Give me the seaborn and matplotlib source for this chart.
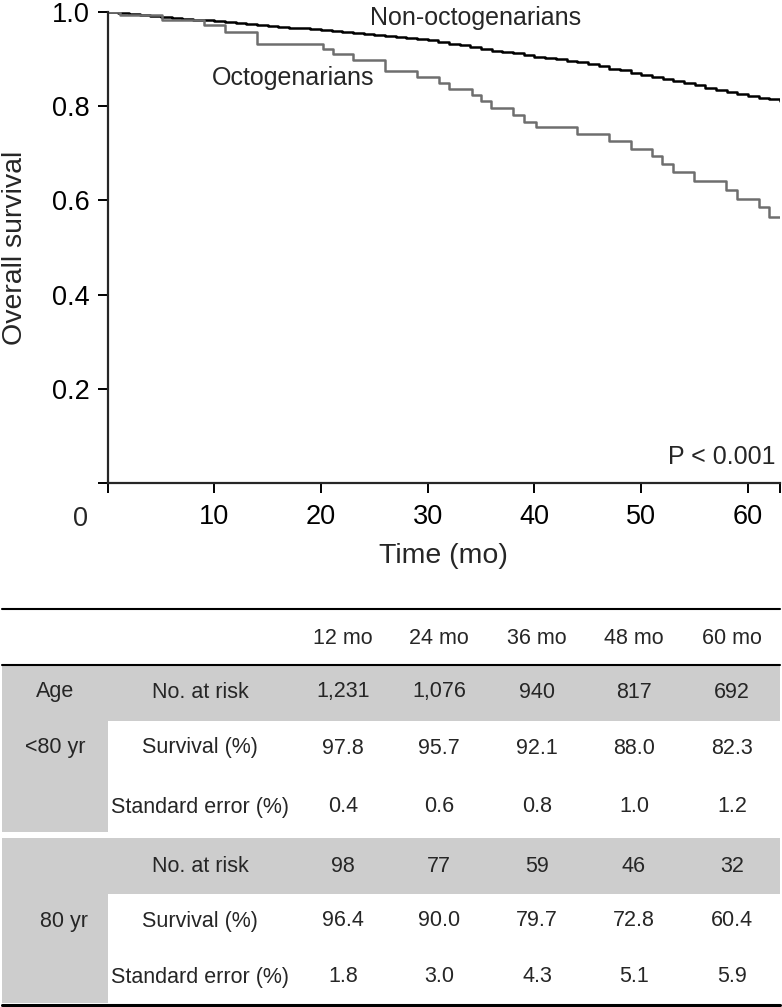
import numpy as np
import pandas as pd
import matplotlib
matplotlib.use("Agg")
import matplotlib.pyplot as plt
import seaborn as sns

sns.set_style("ticks")
plt.rcParams['font.family'] = ['Liberation Sans', 'DejaVu Sans']

# Kaplan-Meier step points
non_octo_time = [0, 1, 2, 3, 4, 5, 6, 7, 8, 9, 10, 11, 12, 13, 14, 15, 16, 17, 18, 19, 20,
                 21, 22, 23, 24, 25, 26, 27, 28, 29, 30, 31, 32, 33, 34, 35, 36, 37, 38, 39, 40,
                 41, 42, 43, 44, 45, 46, 47, 48, 49, 50, 51, 52, 53, 54, 55, 56, 57, 58, 59, 60,
                 61, 62, 63]
non_octo_surv = [1.000, 0.998, 0.996, 0.994, 0.992, 0.990, 0.988, 0.986, 0.984, 0.982, 0.980,
                 0.978, 0.977, 0.975, 0.973, 0.971, 0.969, 0.967, 0.965, 0.963, 0.961,
                 0.959, 0.957, 0.955, 0.953, 0.951, 0.949, 0.947, 0.945, 0.942, 0.940,
                 0.937, 0.933, 0.929, 0.925, 0.921, 0.918, 0.915, 0.912, 0.908, 0.905,
                 0.903, 0.900, 0.897, 0.894, 0.890, 0.885, 0.880, 0.876, 0.871, 0.866,
                 0.862, 0.858, 0.854, 0.849, 0.844, 0.839, 0.834, 0.830, 0.825, 0.821,
                 0.818, 0.815, 0.812]

octo_time = [0, 1.2, 5.1, 9.0, 11.0, 14.0, 20.2, 21.1, 23.0, 26.0, 29.0, 31.1, 32.0, 34.1,
             35.0, 35.9, 38.0, 39.0, 40.1, 44.0, 47.0, 49.0, 51.0, 51.9, 53.0, 54.9, 57.9,
             59.0, 61.0, 62.0, 63.0]
octo_surv = [1.000, 0.994, 0.982, 0.972, 0.958, 0.933, 0.921, 0.911, 0.898, 0.875, 0.861,
             0.849, 0.836, 0.823, 0.810, 0.797, 0.781, 0.767, 0.756, 0.742, 0.726, 0.710,
             0.694, 0.678, 0.660, 0.641, 0.623, 0.604, 0.585, 0.565, 0.565]

# table under the plot
months = ["12 mo", "24 mo", "36 mo", "48 mo", "60 mo"]
row_names = ["No. at risk", "Survival (%)", "Standard error (%)"]
young_risk = ["1,231", "1,076", "940", "817", "692"]
young_surv = ["97.8", "95.7", "92.1", "88.0", "82.3"]
young_se = ["0.4", "0.6", "0.8", "1.0", "1.2"]
old_risk = ["98", "77", "59", "46", "32"]
old_surv = ["96.4", "90.0", "79.7", "72.8", "60.4"]
old_se = ["1.8", "3.0", "4.3", "5.1", "5.9"]

df = pd.concat([
    pd.DataFrame({"time": non_octo_time, "surv": non_octo_surv, "group": "Non-octogenarians"}),
    pd.DataFrame({"time": octo_time, "surv": octo_surv, "group": "Octogenarians"}),
])

W, H = 782, 1007
fig = plt.figure(figsize=(W / 100, H / 100), dpi=100)
ax = fig.add_axes([107.5 / W, 1 - 483 / H, 672.5 / W, 471 / H])

sns.lineplot(data=df, x="time", y="surv", hue="group",
             palette={"Non-octogenarians": "black", "Octogenarians": "#6e6e6e"},
             drawstyle="steps-post", linewidth=1.8, legend=False, ax=ax)

ax.set_xlim(0, 63)
ax.set_ylim(0, 1.0)
sns.despine(ax=ax)
for s in ["left", "bottom"]:
    ax.spines[s].set_linewidth(1.6)
ax.set_xticks([0, 10, 20, 30, 40, 50, 60, 63])
ax.set_xticklabels(["", "10", "20", "30", "40", "50", "60", ""])
ax.set_yticks([0, 0.2, 0.4, 0.6, 0.8, 1.0])
ax.set_yticklabels(["", "0.2", "0.4", "0.6", "0.8", "1.0"])
ax.tick_params(axis="both", length=7, width=1.4, labelsize=19.5, colors="black")
ax.tick_params(axis="x", pad=8)
ax.tick_params(axis="y", pad=6)
ax.set_xlabel("Time (mo)", fontsize=20.5)
ax.set_ylabel("Overall survival", fontsize=20.5)
ax.xaxis.set_label_coords(0.5, -0.128)
ax.yaxis.set_label_coords(-0.118, 0.5)

ax.text(0.39, 0.987, "Non-octogenarians", transform=ax.transAxes, fontsize=18, va="center", ha="left")
ax.text(0.155, 0.86, "Octogenarians", transform=ax.transAxes, fontsize=18, va="center", ha="left")
ax.text(0.9926, 0.055, "P < 0.001", transform=ax.transAxes, fontsize=18, va="center", ha="right")
fig.text(81 / W, 1 - 519 / H, "0", fontsize=19.5, ha="center", va="center")

# table drawn in pixel coordinates
tb = fig.add_axes([0, 0, 1, 1], zorder=-1)
tb.set_xlim(0, W)
tb.set_ylim(H, 0)
tb.axis("off")
gray = "#cdcdcd"
tb.add_patch(plt.Rectangle((2, 665), 778, 56, color=gray, lw=0))
tb.add_patch(plt.Rectangle((2, 665), 106, 167, color=gray, lw=0))
tb.add_patch(plt.Rectangle((2, 838), 778, 56, color=gray, lw=0))
tb.add_patch(plt.Rectangle((2, 838), 106, 165, color=gray, lw=0))
tb.plot([2, 780], [609, 609], color="black", lw=1.5)
tb.plot([2, 780], [665, 665], color="black", lw=1.5)
tb.plot([2, 780], [1005, 1005], color="black", lw=2.2)

col_x = [343, 439, 537, 634, 732]
fs = 15.5
for x, m in zip(col_x, months):
    tb.text(x, 638, m, fontsize=fs, ha="center", va="center")

row_y = [692, 748, 807, 866, 921, 977]
rows = [young_risk, young_surv, young_se, old_risk, old_surv, old_se]
names = row_names + row_names
for y, name, vals in zip(row_y, names, rows):
    tb.text(200, y, name, fontsize=fs, ha="center", va="center")
    for x, v in zip(col_x, vals):
        tb.text(x, y, v, fontsize=fs, ha="center", va="center")

tb.text(55, 692, "Age", fontsize=fs, ha="center", va="center")
tb.text(55, 748, "<80 yr", fontsize=fs, ha="center", va="center")
tb.text(64, 921, "80 yr", fontsize=fs, ha="center", va="center")

fig.savefig("out.png", dpi=100)
